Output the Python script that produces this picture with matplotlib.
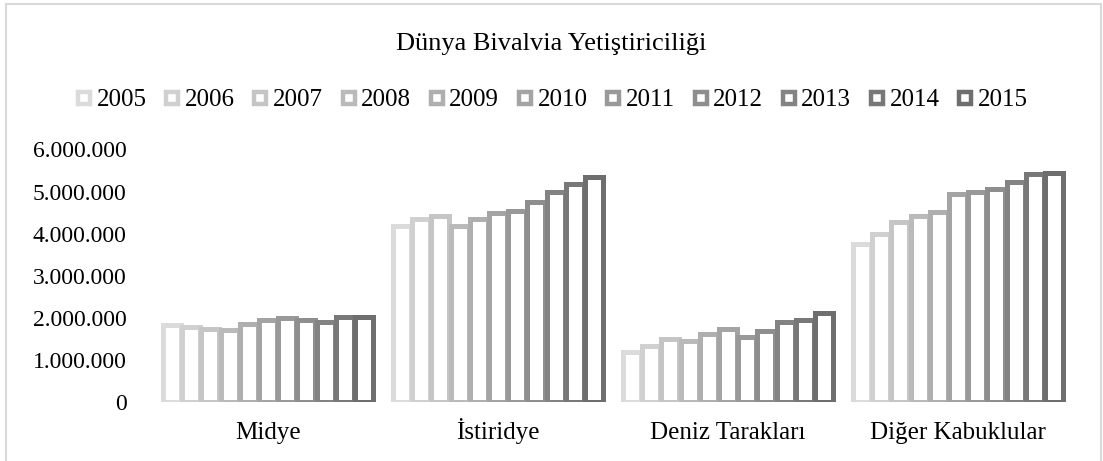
import numpy as np
import matplotlib
matplotlib.use("Agg")
import matplotlib.pyplot as plt
from matplotlib.lines import Line2D
from matplotlib.patches import Rectangle
from matplotlib.ticker import FuncFormatter

plt.rcParams['font.family'] = ['Liberation Serif', 'DejaVu Serif']

categories = ["Midye", "İstiridye", "Deniz Tarakları", "Diğer Kabuklular"]
years = ["2005", "2006", "2007", "2008", "2009", "2010",
         "2011", "2012", "2013", "2014", "2015"]

midye = [1846000, 1790000, 1730000, 1725000, 1870000, 1950000,
         2010000, 1960000, 1900000, 2020000, 2020000]
istiridye = [4190000, 4350000, 4430000, 4180000, 4340000, 4500000,
             4530000, 4760000, 4980000, 5170000, 5340000]
deniz_taraklari = [1200000, 1350000, 1500000, 1450000, 1620000, 1750000,
                   1550000, 1690000, 1900000, 1950000, 2110000]
diger = [3750000, 3990000, 4280000, 4430000, 4520000, 4940000,
         5000000, 5060000, 5220000, 5410000, 5450000]

values = np.array([midye, istiridye, deniz_taraklari, diger])

fig = plt.figure(figsize=(11.03, 4.61), dpi=100)
ax = fig.add_axes([0.1387, 0.1269, 0.8341, 0.5492])

n = len(years)
group = 0.92
step = group / n
lw_px = 5.0
px_per_unit = 0.8341 * 1103
bar_w = step - lw_px / px_per_unit

shades = np.linspace(0xdb, 0x6e, n)
colors = ["#%02x%02x%02x" % (int(s), int(s), int(s)) for s in shades]

x = np.arange(len(categories))
for i, yr in enumerate(years):
    pos = x - group / 2 + step * (i + 0.5)
    ax.bar(pos, values[:, i], width=bar_w, facecolor="white",
           edgecolor=colors[i], linewidth=lw_px * 0.72, zorder=2 + i)

ax.set_xlim(-0.5, len(categories) - 0.5)
ax.set_ylim(0, 6000000)
ax.set_yticks(np.arange(0, 6000001, 1000000))
ax.yaxis.set_major_formatter(FuncFormatter(lambda v, p: f"{int(v):,}".replace(",", ".")))
ax.set_xticks(x)
ax.set_xticklabels(categories, va="baseline")
ax.tick_params(axis="both", length=0, colors="black")
ax.tick_params(axis="y", pad=19, labelsize=17)
ax.tick_params(axis="x", pad=26.5, labelsize=18)
for s in ax.spines.values():
    s.set_visible(False)

handles = [Line2D([], [], linestyle="none", marker="s", markersize=8,
                  markerfacecolor="white", markeredgecolor=c, markeredgewidth=3.2)
           for c in colors]
fig.legend(handles, years, loc="center", bbox_to_anchor=(0.5, 0.783), ncol=n,
           frameon=False, fontsize=18, handlelength=0.7, handletextpad=0.15,
           columnspacing=0.68, borderpad=0)

fig.text(0.5, 0.905, "Dünya Bivalvia Yetiştiriciliği", ha="center", va="center",
         fontsize=19)

fig.patches.append(Rectangle((6 / 1103, -0.1), 1095 / 1103, 1.1 - 4 / 461,
                             transform=fig.transFigure, fill=False,
                             edgecolor="#d9d9d9", linewidth=1.5))

fig.savefig("out.png", dpi=100)
